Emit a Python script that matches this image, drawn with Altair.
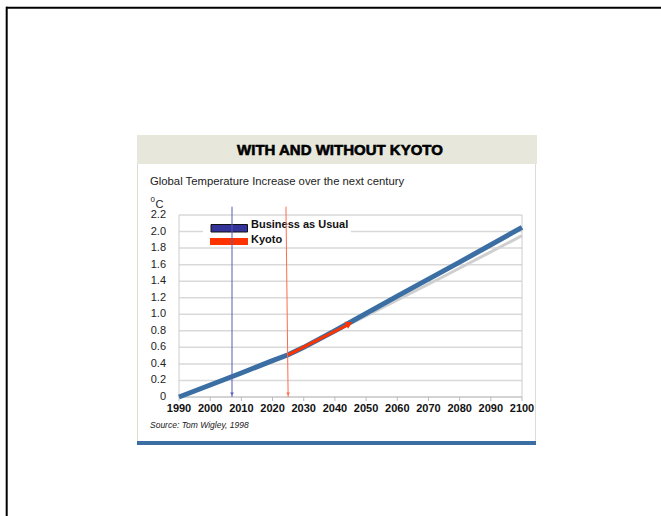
import altair as alt
import pandas as pd

# ---- data ----
bau_years = [1990, 2010, 2020, 2025, 2030, 2040, 2060, 2080, 2100]
bau_values = [0.0, 0.29, 0.44, 0.51, 0.60, 0.80, 1.22, 1.63, 2.05]

trend_years = [2025, 2050, 2075, 2100]
trend_values = [0.51, 0.98, 1.46, 1.95]

kyoto_years = [2025, 2044]
kyoto_values = [0.51, 0.87]
kyoto_head_year = [2044.6]
kyoto_head_value = [0.885]

marker_names = ["Business as Usual", "Kyoto"]
marker_top_years = [2007, 2024.3]
marker_bottom_years = [2007, 2025]
marker_top_values = [2.3, 2.3]
marker_bottom_values = [0.0, 0.0]
marker_colors = ["#5a5ab8", "#ff6a4d"]

x_ticks = list(range(1990, 2101, 10))
y_ticks = [0, 0.2, 0.4, 0.6, 0.8, 1.0, 1.2, 1.4, 1.6, 1.8, 2.0, 2.2]
y_labels = ["0", "0.2", "0.4", "0.6", "0.8", "1.0", "1.2", "1.4", "1.6", "1.8", "2.0", "2.2"]

title = "WITH AND WITHOUT KYOTO"
subtitle = "Global Temperature Increase over the next century"
source = "Source: Tom Wigley, 1998"

W, H = 343, 182
FONT = "Liberation Sans"

xs = alt.Scale(domain=[1990, 2100], nice=False)
ys = alt.Scale(domain=[0, 2.2], nice=False)

one = pd.DataFrame({"a": [0]})

bau_df = pd.DataFrame({"year": bau_years, "temp": bau_values})
trend_df = pd.DataFrame({"year": trend_years, "temp": trend_values})
kyoto_df = pd.DataFrame({"year": kyoto_years, "temp": kyoto_values})
head_df = pd.DataFrame({"year": kyoto_head_year, "temp": kyoto_head_value})
marker_df = pd.DataFrame({
    "name": marker_names, "x1": marker_top_years, "x2": marker_bottom_years,
    "y1": marker_top_values, "y2": marker_bottom_values, "c": marker_colors,
})
xt_df = pd.DataFrame({"year": x_ticks, "label": [str(v) for v in x_ticks]})
yt_df = pd.DataFrame({"temp": y_ticks, "label": y_labels})


def X(field):
    return alt.X(field, scale=xs, axis=None)


def Y(field):
    return alt.Y(field, scale=ys, axis=None)


# ---- decorations (page frame & panel) ----
frame_top = alt.Chart(one).mark_rule(color="black", strokeWidth=2).encode(
    x=alt.value(-173), x2=alt.value(490), y=alt.value(-207.3))
frame_left = alt.Chart(one).mark_rule(color="black", strokeWidth=2).encode(
    x=alt.value(-172.3), y=alt.value(-208.3), y2=alt.value(310))
header = alt.Chart(one).mark_rect(color="#e7e7dc").encode(
    x=alt.value(-42), x2=alt.value(358), y=alt.value(-80), y2=alt.value(-51))
box_left = alt.Chart(one).mark_rule(color="#dcdcd2", strokeWidth=1).encode(
    x=alt.value(-41.5), y=alt.value(-51), y2=alt.value(226))
box_right = alt.Chart(one).mark_rule(color="#dcdcd2", strokeWidth=1).encode(
    x=alt.value(356.5), y=alt.value(-51), y2=alt.value(226))
bottom_bar = alt.Chart(one).mark_rect(color="#3b6ea3").encode(
    x=alt.value(-42), x2=alt.value(357), y=alt.value(226), y2=alt.value(230))

title_t = alt.Chart(one).mark_text(
    font=FONT, fontSize=15, fontWeight="bold", color="#000000",
    stroke="#000000", strokeWidth=0.6,
    align="center", baseline="middle").encode(
    x=alt.value(161), y=alt.value(-65.5), text=alt.value(title))
subtitle_t = alt.Chart(one).mark_text(
    font=FONT, fontSize=11.3, color="#222222", align="left", baseline="middle").encode(
    x=alt.value(-29), y=alt.value(-33), text=alt.value(subtitle))
deg_t = alt.Chart(one).mark_text(
    font=FONT, fontSize=8, color="#222222", align="left", baseline="middle").encode(
    x=alt.value(-28.5), y=alt.value(-15.5), text=alt.value("0"))
c_t = alt.Chart(one).mark_text(
    font=FONT, fontSize=11, color="#222222", align="left", baseline="middle").encode(
    x=alt.value(-23.5), y=alt.value(-10.5), text=alt.value("C"))
source_t = alt.Chart(one).mark_text(
    font=FONT, fontSize=8.5, fontStyle="italic", color="#222222",
    align="left", baseline="middle").encode(
    x=alt.value(-29), y=alt.value(210), text=alt.value(source))

# ---- hand-built axes ----
grid = alt.Chart(yt_df).mark_rule(color="#d9d9d9", strokeWidth=1.5).encode(
    y=Y("temp:Q"), x=alt.value(0), x2=alt.value(W))
y_lab = alt.Chart(yt_df).mark_text(
    font=FONT, fontSize=11, color="#222222", align="right", baseline="middle", dx=-13).encode(
    y=Y("temp:Q"), x=alt.value(0), text="label:N")
x_tick = alt.Chart(xt_df).mark_rule(color="#bbbbbb", strokeWidth=1).encode(
    x=X("year:Q"), y=alt.value(H), y2=alt.value(H + 4))
x_lab = alt.Chart(xt_df).mark_text(
    font=FONT, fontSize=11, fontWeight="bold", color="#111111",
    align="center", baseline="top").encode(
    x=X("year:Q"), y=alt.value(H + 6), text="label:N")
left_edge = alt.Chart(one).mark_rule(color="#cccccc", strokeWidth=1).encode(
    x=alt.value(0), y=alt.value(0), y2=alt.value(H))
right_edge = alt.Chart(one).mark_rule(color="#cccccc", strokeWidth=1).encode(
    x=alt.value(W), y=alt.value(0), y2=alt.value(H))
bottom_edge = alt.Chart(one).mark_rule(color="#c4c4c4", strokeWidth=1).encode(
    x=alt.value(0), x2=alt.value(W), y=alt.value(H))

legend_bg = alt.Chart(one).mark_rect(color="white").encode(
    x=alt.value(24), x2=alt.value(172), y=alt.value(4), y2=alt.value(31))

trend_line = alt.Chart(trend_df).mark_line(color="#cfcfcf", strokeWidth=3, clip=False).encode(
    x=X("year:Q"), y=Y("temp:Q"))
bau_line = alt.Chart(bau_df).mark_line(color="#3b6ea3", strokeWidth=5, clip=False).encode(
    x=X("year:Q"), y=Y("temp:Q"))
kyoto_line = alt.Chart(kyoto_df).mark_line(color="#ff3300", strokeWidth=3).encode(
    x=X("year:Q"), y=Y("temp:Q"))
kyoto_head = alt.Chart(head_df).mark_point(
    shape="triangle-right", angle=333, filled=True, size=60, color="#ff3300", opacity=1).encode(
    x=X("year:Q"), y=Y("temp:Q"))

marker_lines = alt.Chart(marker_df).mark_rule(strokeWidth=1, clip=False).encode(
    x=X("x1:Q"), x2="x2:Q",
    y=Y("y1:Q"), y2="y2:Q",
    color=alt.Color("c:N", scale=None))
marker_heads = alt.Chart(marker_df).mark_point(
    shape="triangle-down", filled=True, size=14, opacity=1).encode(
    x=X("x2:Q"), y=alt.value(H - 3),
    color=alt.Color("c:N", scale=None))

# ---- manual legend ----
sw_blue = alt.Chart(one).mark_rect(color="#333399", stroke="#111111", strokeWidth=1).encode(
    x=alt.value(32), x2=alt.value(68.5), y=alt.value(9.5), y2=alt.value(17))
sw_red = alt.Chart(one).mark_rect(color="#ff3300").encode(
    x=alt.value(31), x2=alt.value(69), y=alt.value(23), y2=alt.value(30))
lg_t1 = alt.Chart(one).mark_text(
    font=FONT, fontSize=11, fontWeight="bold", color="#111111", align="left", baseline="middle").encode(
    x=alt.value(72), y=alt.value(10), text=alt.value(marker_names[0]))
lg_t2 = alt.Chart(one).mark_text(
    font=FONT, fontSize=11, fontWeight="bold", color="#111111", align="left", baseline="middle").encode(
    x=alt.value(72), y=alt.value(25), text=alt.value(marker_names[1]))

chart = alt.layer(
    frame_top, frame_left, header, box_left, box_right, bottom_bar,
    grid, left_edge, right_edge, bottom_edge, x_tick, y_lab, x_lab, legend_bg,
    trend_line, bau_line, kyoto_line, kyoto_head,
    sw_blue, sw_red, lg_t1, lg_t2,
    marker_lines, marker_heads,
    title_t, subtitle_t, deg_t, c_t, source_t,
).properties(
    width=W, height=H,
    autosize=alt.AutoSizeParams(type="none"),
    padding={"left": 179, "top": 215, "right": 139, "bottom": 119},
    background="white",
).configure_view(stroke=None)

chart.save("out.html", embed_options={"renderer": "svg", "actions": False})
